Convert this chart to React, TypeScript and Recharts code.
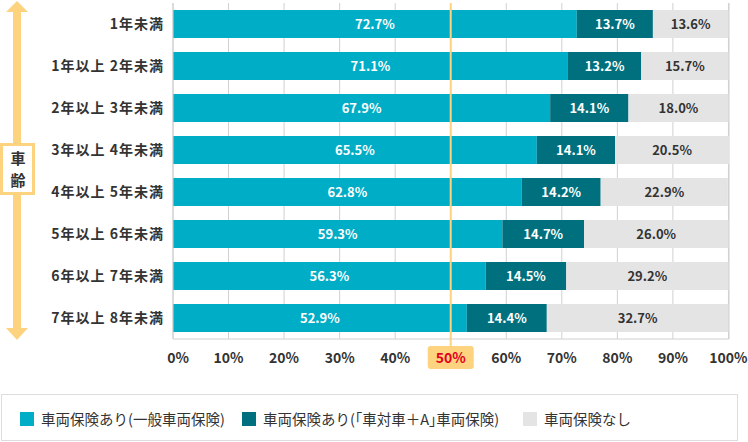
import React from "react";
import { BarChart, Bar, XAxis, YAxis, CartesianGrid, ReferenceLine, LabelList } from "recharts";

const categories = [
  "1年未満",
  "1年以上 2年未満",
  "2年以上 3年未満",
  "3年以上 4年未満",
  "4年以上 5年未満",
  "5年以上 6年未満",
  "6年以上 7年未満",
  "7年以上 8年未満",
];
const generalValues = [72.7, 71.1, 67.9, 65.5, 62.8, 59.3, 56.3, 52.9];
const carToCarValues = [13.7, 13.2, 14.1, 14.1, 14.2, 14.7, 14.5, 14.4];
const noneValues = [13.6, 15.7, 18.0, 20.5, 22.9, 26.0, 29.2, 32.7];
const seriesNames = ["車両保険あり(一般車両保険)", "車両保険あり(｢車対車＋A｣車両保険)", "車両保険なし"];
const xTicks = [0, 10, 20, 30, 40, 50, 60, 70, 80, 90, 100];
const axisTitle = ["車", "齢"];

const COLORS = ["#00adc6", "#00707e", "#e4e4e4"];
const FONT = "'Noto Sans CJK JP', 'Noto Sans', sans-serif";

const data = categories.map((c, i) => ({
  name: c,
  general: generalValues[i],
  carToCar: carToCarValues[i],
  none: noneValues[i],
}));

const fmt = (v: any) => `${Number(v).toFixed(1)}%`;

const XTick = (props: any) => {
  const { x, y, payload } = props;
  const hl = payload.value === 50;
  return (
    <g>
      {hl && <line x1={x} x2={x} y1={y} y2={y + 8} stroke="#fdd380" strokeWidth={2} />}
      {hl && <rect x={x - 23} y={y + 7} width={46} height={23} rx={3} fill="#fdd380" />}
      <text
        x={x + (payload.value === 0 ? 5 : 0)}
        y={y + 24}
        textAnchor="middle"
        fontSize={14}
        fontWeight={700}
        fontFamily={FONT}
        fill={hl ? "#e3001b" : "#333"}
      >
        {payload.value}%
      </text>
    </g>
  );
};

const YTick = (props: any) => {
  const { x, y, payload } = props;
  return (
    <text
      x={x + 1}
      y={y + 5}
      textAnchor="end"
      fontSize={14}
      fontWeight={700}
      fontFamily={FONT}
      fill="#333"
      letterSpacing={1}
    >
      {payload.value}
    </text>
  );
};

export default function App() {
  return (
    <div style={{ position: "relative", width: 748, height: 442, fontFamily: FONT, background: "#fff" }}>
      <style>{`body{margin:0}`}</style>
      <svg width={40} height={345} style={{ position: "absolute", left: 0, top: 0 }}>
        <polygon points="6,12 17,1 28,12" fill="#fdd380" />
        <rect x={13} y={11} width={8} height={318} fill="#fdd380" />
        <polygon points="6,328 17,340 28,328" fill="#fdd380" />
        <rect x={1.5} y={144.5} width={32} height={49} fill="#fff" stroke="#fdd380" strokeWidth={3} />
        <text x={18} y={164} textAnchor="middle" fontSize={15} fontWeight={700} fill="#333" fontFamily={FONT}>
          {axisTitle[0]}
        </text>
        <text x={18} y={186} textAnchor="middle" fontSize={15} fontWeight={700} fill="#333" fontFamily={FONT}>
          {axisTitle[1]}
        </text>
      </svg>
      <BarChart
        width={748}
        height={380}
        data={data}
        layout="vertical"
        margin={{ top: 3, right: 19, left: 8, bottom: 0 }}
        barSize={28}
      >
        <CartesianGrid horizontal={false} stroke="#d0d0d0" />
        <XAxis
          type="number"
          domain={[0, 100]}
          ticks={xTicks}
          height={41}
          tickSize={0}
          tickMargin={0}
          tick={<XTick />}
          axisLine={{ stroke: "#d0d0d0" }}
          tickLine={false}
          interval={0}
        />
        <YAxis
          type="category"
          dataKey="name"
          width={165}
          tickSize={0}
          tickMargin={10}
          tick={<YTick />}
          axisLine={{ stroke: "#d0d0d0" }}
          tickLine={false}
          interval={0}
        />
        <ReferenceLine x={50} stroke="#fdd380" strokeWidth={2} />
        <Bar dataKey="general" stackId="a" fill={COLORS[0]} isAnimationActive={false}>
          <LabelList dataKey="general" position="center" formatter={fmt} fill="#fff" fontSize={13} fontWeight={700} fontFamily={FONT} />
        </Bar>
        <Bar dataKey="carToCar" stackId="a" fill={COLORS[1]} isAnimationActive={false}>
          <LabelList dataKey="carToCar" position="center" formatter={fmt} fill="#fff" fontSize={13} fontWeight={700} fontFamily={FONT} />
        </Bar>
        <Bar dataKey="none" stackId="a" fill={COLORS[2]} isAnimationActive={false}>
          <LabelList dataKey="none" position="center" formatter={fmt} fill="#333" fontSize={13} fontWeight={700} fontFamily={FONT} />
        </Bar>
      </BarChart>
      <div
        style={{
          position: "absolute",
          left: 1,
          top: 394,
          width: 737,
          height: 47,
          border: "1px solid #dddddd",
          boxSizing: "border-box",
        }}
      >
        {seriesNames.map((n, i) => (
          <div
            key={n}
            style={{
              position: "absolute",
              left: [18, 240, 521][i],
              top: 13,
              display: "flex",
              alignItems: "center",
              fontSize: 14.5,
              lineHeight: "22px",
              color: "#333",
              whiteSpace: "nowrap",
            }}
          >
            <span style={{ display: "inline-block", width: 14, height: 14, background: COLORS[i], marginRight: 7 }} />
            {n}
          </div>
        ))}
      </div>
    </div>
  );
}
